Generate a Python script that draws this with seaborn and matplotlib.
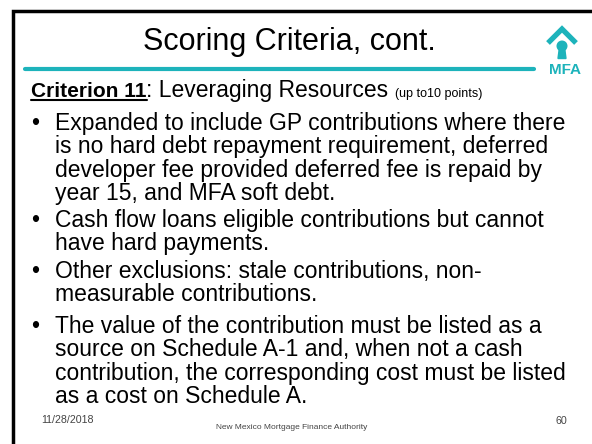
import matplotlib
matplotlib.use("Agg")
import matplotlib.pyplot as plt
import seaborn as sns
import pandas as pd
from matplotlib.patches import Circle, Polygon

## slide text
title = "Scoring Criteria, cont."
crit_bold = "Criterion 11"
crit_text = ": Leveraging Resources "
crit_small = "(up to10 points)"
bullets = [
    ["Expanded to include GP contributions where there",
     "is no hard debt repayment requirement, deferred",
     "developer fee provided deferred fee is repaid by",
     "year 15, and MFA soft debt."],
    ["Cash flow loans eligible contributions but cannot",
     "have hard payments."],
    ["Other exclusions: stale contributions, non-",
     "measurable contributions."],
    ["The value of the contribution must be listed as a",
     "source on Schedule A-1 and, when not a cash",
     "contribution, the corresponding cost must be listed",
     "as a cost on Schedule A."],
]
bullet_baselines = [130, 227, 278, 333]
footer_date = "11/28/2018"
footer_org = "New Mexico Mortgage Finance Authority"
footer_page = "60"

teal = "#1db3bb"

sns.set_theme(style="white")
plt.rcParams['font.family'] = ['Liberation Sans', 'DejaVu Sans']
plt.rcParams['text.color'] = 'black'

fig = plt.figure(figsize=(5.92, 4.44), dpi=100)
ax = fig.add_axes([0, 0, 1, 1])
ax.set_xlim(0, 592)
ax.set_ylim(444, 0)
ax.axis("off")

## frame (top and left edges)
ax.plot([592, 13, 13], [11.5, 11.5, 444], color="black", lw=2.5, solid_joinstyle="miter")

## teal rule under title
rule = pd.DataFrame({"x": [25, 534], "y": [69, 69]})
sns.lineplot(data=rule, x="x", y="y", color=teal, lw=3, ax=ax)

## logo
ax.plot([548, 562, 576], [43, 29, 43], color=teal, lw=3.8, solid_capstyle="butt",
        solid_joinstyle="miter")
ax.add_patch(Circle((562, 46), 4.8, color=teal))
ax.add_patch(Polygon([[559.5, 47], [564.5, 47], [566, 58.5], [558, 58.5]], color=teal))
ax.text(565, 74, "MFA", color=teal, fontsize=11, fontweight="bold",
        ha="center", va="baseline")

## title
ax.text(289, 50, title, fontsize=22, ha="center", va="baseline")

## criterion line
t = ax.text(31, 97, crit_bold, fontsize=15, fontweight="bold", va="baseline")
fig.canvas.draw()
x_end = t.get_window_extent().x1
ax.plot([31, x_end], [100, 100], color="black", lw=1.5)
t2 = ax.text(x_end, 97, crit_text, fontsize=16.5, va="baseline")
fig.canvas.draw()
x_end2 = t2.get_window_extent().x1
ax.text(x_end2, 97, crit_small, fontsize=9, va="baseline")

## bullets
line_step = 23.3
for lines, base in zip(bullets, bullet_baselines):
    ax.text(31, base, "\u2022", fontsize=16.5, va="baseline")
    for i, line in enumerate(lines):
        ax.text(55, base + i * line_step, line, fontsize=16.5, va="baseline")

## footer
ax.text(41, 423, footer_date, fontsize=7.7, color="#444444", va="baseline")
ax.text(292, 429, footer_org, fontsize=6, color="#444444", ha="center", va="baseline")
ax.text(567, 424, footer_page, fontsize=7.7, color="#444444", ha="right", va="baseline")

fig.savefig("out.png", dpi=100)
